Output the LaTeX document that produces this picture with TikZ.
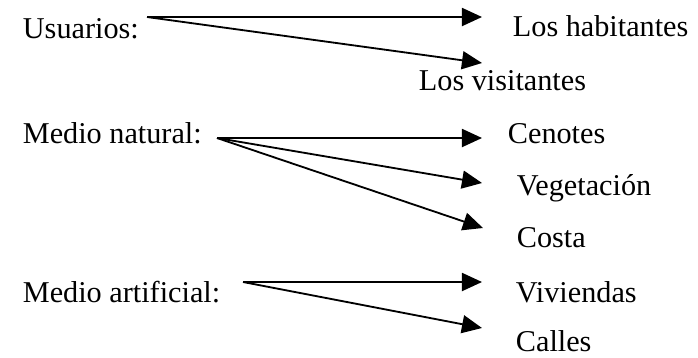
\documentclass[tikz,border=0pt]{standalone}
\usepackage{fontspec}
\setmainfont{Liberation Serif}
\usepackage{tikz}
\usetikzlibrary{arrows.meta, positioning}

\begin{document}
\begin{tikzpicture}[->,>={Triangle[length=0.5cm,width=0.45cm]},x=0.025cm,y=-0.025cm,
        line width=1.3pt,every node/.style={inner sep=0pt,anchor=base west,font=\fontsize{21.5}{26}\selectfont}]
        \useasboundingbox (0,0) rectangle (698,357);
        % left column
        \node(Usu) at (22,38){Usuarios:};
        \node(Nat) at (22,143){Medio natural:};
        \node(Art) at (22,302){Medio artificial:};
        % right column
        \node(Hab) at (512,36){Los habitantes};
        \node(Vis) at (418,90){Los visitantes};
        \node(Cen) at (507,143){Cenotes};
        \node(Veg) at (516,195){Vegetación};
        \node(Cos) at (516,247){Costa};
        \node(Viv) at (515,302){Viviendas};
        \node(Cal) at (515,351){Calles};
        % where the arrows leave and end
        \coordinate (aux) at (147,17);
        \coordinate (aux2) at (217,138);
        \coordinate (aux3) at (243,282);
        \coordinate (tHab) at (482,17);
        \coordinate (tVis) at (482,63);
        \coordinate (tCen) at (482,138);
        \coordinate (tVeg) at (482,183);
        \coordinate (tCos) at (483,228);
        \coordinate (tViv) at (482,282);
        \coordinate (tCal) at (482,328);

        \draw (aux) -- (tHab);
        \draw (aux) -- (tVis);
        \draw (aux2) -- (tCen);
        \draw (aux2) -- (tVeg);
        \draw (aux2) -- (tCos);
        \draw (aux3) -- (tViv);
        \draw (aux3) -- (tCal);
      \end{tikzpicture}
\end{document}
